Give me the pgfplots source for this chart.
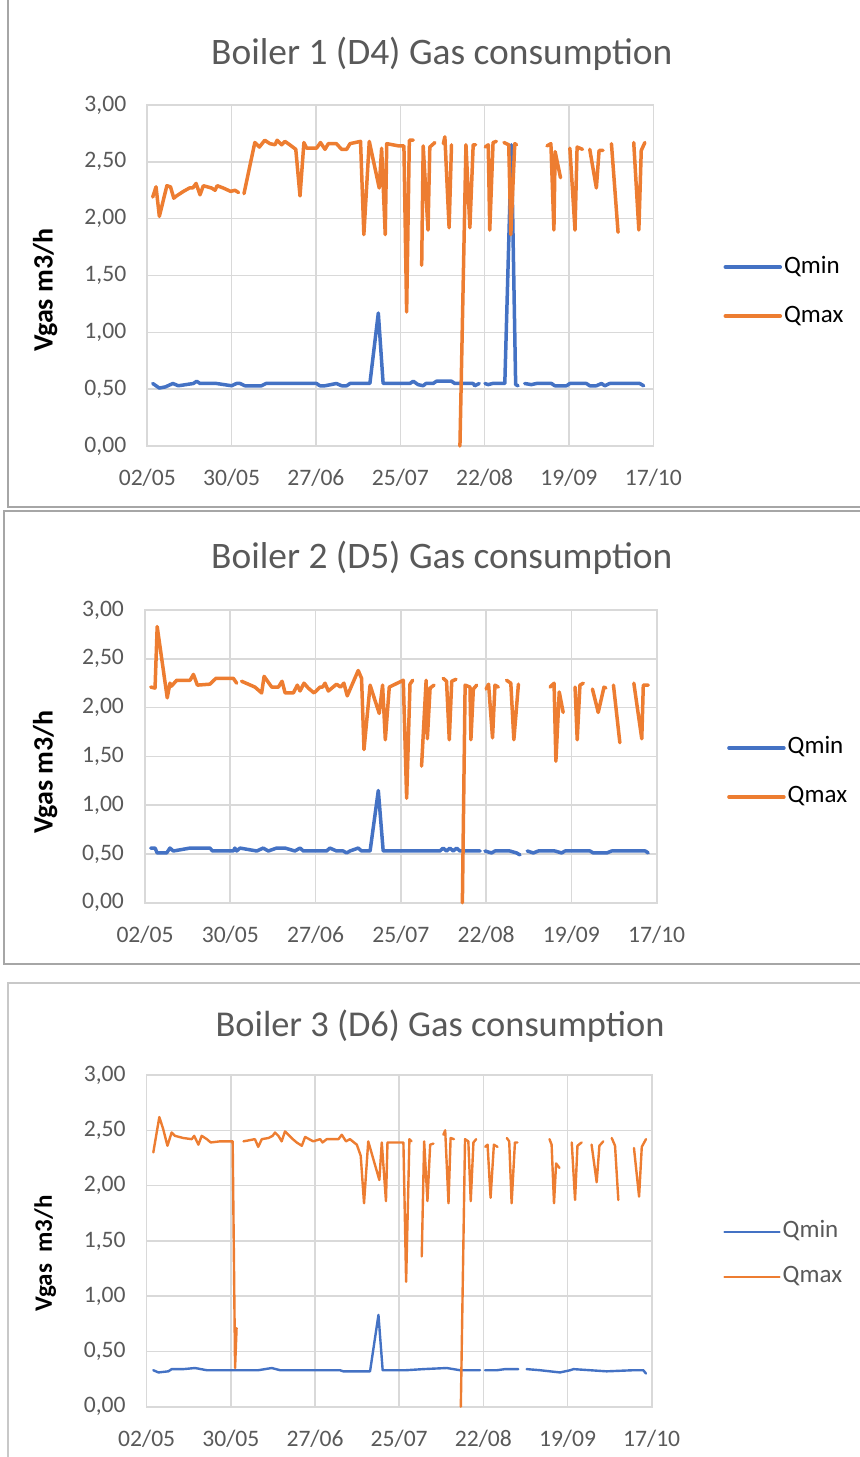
\documentclass[border=0pt]{standalone}
\usepackage{fontspec}
\setmainfont{Carlito}
\usepackage{pgfplots}
\pgfplotsset{compat=1.18}
\definecolor{qmin}{HTML}{4472C4}
\definecolor{qmax}{HTML}{ED7D31}
\definecolor{gridc}{HTML}{D9D9D9}
\definecolor{txt}{HTML}{595959}
\definecolor{frm}{HTML}{A6A6A6}
\definecolor{frm3}{HTML}{C8C8C8}

\pgfplotsset{
  boiler/.style={
    scale only axis,
    xmin=0, xmax=168, ymin=0, ymax=3,
    xtick={0,28,56,84,112,140,168},
    xticklabels={02/05,30/05,27/06,25/07,22/08,19/09,17/10},
    ytick={0,0.5,1,1.5,2,2.5,3},
    yticklabel style={/pgf/number format/fixed, /pgf/number format/fixed zerofill, /pgf/number format/precision=2, /pgf/number format/use comma, /pgf/number format/assume math mode=true},
    tick label style={font=\fontsize{11.8}{14}\selectfont, text=txt},
    yticklabel style={xshift=-7pt},
    xticklabel style={yshift=-8pt},
    grid=major,
    major grid style={gridc, line width=0.8pt},
    axis line style={gridc, line width=0.8pt},
    tick style={draw=none},
    unbounded coords=jump,
    clip=false,
    title style={anchor=center, yshift=-7pt, font=\fontsize{18.7}{22}\selectfont, text=txt},
    ylabel={Vgas m3/h},
    ylabel style={anchor=center, font=\fontsize{14}{16}\selectfont\bfseries, text=black},
    legend cell align=left,
    legend style={draw=none, fill=none, anchor=west, inner sep=0pt, row sep=12.5pt,
      font=\fontsize{12.5}{15}\selectfont,
      nodes={inner sep=1pt, text height=8pt, text depth=2pt}},
    legend image code/.code={\draw[##1] (0pt,0pt) -- (27.5pt,0pt);},
  },
  qminstyle/.style={qmin, line width=1.75pt, line join=round, line cap=round},
  qmaxstyle/.style={qmax, line width=1.75pt, line join=round, line cap=round},
}

\begin{document}
\begin{tikzpicture}
\path[use as bounding box] (0,0) rectangle (430pt,-728.5pt);
% panel frames
\draw[frm, line width=1pt] (4pt,2pt) rectangle (432pt,-253.5pt);
\draw[frm, line width=1pt] (2pt,-255.4pt) rectangle (432pt,-482pt);
\draw[frm3, line width=0.8pt] (4pt,-491.5pt) rectangle (432pt,-732pt);

% ---------------- Panel 1 ----------------
\begin{axis}[boiler,
  at={(73.65pt,-52.5pt)}, anchor=north west,
  width=253pt, height=170.5pt,
  title={Boiler 1 (D4) Gas consumption},
  title style={at={(axis description cs:0.582,1.155)}},
  ylabel style={at={(axis description cs:-0.202,0.457)}},
  legend style={at={(axis description cs:1.138,0.453)}, text=black},
]
\addplot[qminstyle] coordinates {
(1.8,0.55) (4,0.51) (6,0.52) (8.5,0.55) (10.3,0.53) (15.3,0.55) (16.4,0.57) (17.5,0.55)
(23,0.55) (28,0.53) (29.6,0.55) (30.8,0.55) (32.4,0.53) (37.9,0.53) (39.4,0.55)
(56.2,0.55) (57.3,0.53) (59,0.53) (62.8,0.55) (64.5,0.53) (66.2,0.53) (67.3,0.55)
(73.9,0.55) (76.7,1.17) (78.3,0.55) (87.2,0.55) (88.3,0.57) (89.9,0.54) (91.6,0.53)
(92.5,0.55) (94.9,0.55) (96,0.57) (101,0.57) (102.1,0.55) (108.2,0.55) (108.7,0.53)
(110.2,0.55) (111,nan) (112.1,0.55) (113.2,0.54) (114.6,0.55) (118.7,0.55) (120.9,2.65)
(122.3,0.54) (123.1,0.53) (124,nan) (125.3,0.55) (127.5,0.54) (129.2,0.55) (134.2,0.55)
(135.3,0.53) (139.2,0.53) (140.3,0.55) (145.8,0.55) (146.9,0.53) (149.1,0.53) (150.8,0.55)
(151.9,0.53) (153.5,0.55) (163.5,0.55) (164.8,0.53)
};
\addlegendentry{Qmin}
\addplot[qmaxstyle] coordinates {
(1.8,2.19) (2.9,2.28) (4,2.02) (6.5,2.29) (7.7,2.28) (8.8,2.18) (9.7,2.20) (12,2.24)
(14,2.27) (15.1,2.27) (16.2,2.31) (17.5,2.21) (18.6,2.29) (21.3,2.27) (22.5,2.25)
(23.2,2.29) (25.2,2.27) (27.7,2.24) (29.1,2.25) (30.3,2.23) (31,nan) (32.1,2.22)
(35.7,2.67) (37.2,2.63) (39,2.69) (40.7,2.66) (42.4,2.65) (43.1,2.69) (44.6,2.65)
(45.7,2.68) (47.3,2.65) (49.3,2.61) (50.7,2.20) (52,2.67) (52.9,2.62) (56.2,2.62)
(57.5,2.67) (59,2.61) (60.1,2.66) (62.8,2.66) (64.5,2.61) (66.2,2.61) (67.3,2.66)
(70.8,2.68) (71.9,1.86) (73.7,2.68) (77,2.27) (77.8,2.62) (79,1.86) (79.5,2.66)
(83.5,2.64) (85.2,2.64) (86.1,1.18) (87,2.69) (88.3,2.69) (89.5,nan) (91.1,1.59)
(91.6,2.64) (93.2,1.90) (93.8,2.63) (95.5,2.67) (96.5,nan) (98.3,2.66) (98.8,2.72)
(100.2,1.92) (101,2.65) (102,nan) (103.8,0) (105.8,2.65) (107.1,1.92) (108.2,2.65)
(109,2.65) (110,nan) (112.2,2.63) (113.2,2.65) (113.7,1.90) (114.8,2.67) (115.9,2.68)
(117,nan) (118.4,2.67) (120,2.65) (120.7,1.86) (122,2.66) (122.6,2.65) (124,nan)
(132.7,2.64) (134,2.66) (135,1.90) (135.4,2.59) (137.2,2.36) (138.5,nan) (140.3,2.62)
(142,1.90) (142.7,2.63) (144.5,2.61) (145.5,nan) (146.9,2.61) (149.1,2.27) (150,2.60)
(151.3,2.60) (152.5,nan) (154.1,2.66) (156.3,1.88) (158,nan) (161.5,2.67) (163.2,1.90)
(164,2.60) (165.2,2.67)
};
\addlegendentry{Qmax}
\end{axis}

% ---------------- Panel 2 ----------------
\begin{axis}[boiler,
  at={(72.5pt,-305pt)}, anchor=north west,
  width=255.85pt, height=146.35pt,
  title={Boiler 2 (D5) Gas consumption},
  title style={at={(axis description cs:0.580,1.185)}},
  ylabel style={at={(axis description cs:-0.195,0.447)}},
  legend style={at={(axis description cs:1.137,0.445)}, text=black},
]
\addplot[qminstyle] coordinates {
(1.9,0.56) (3.3,0.56) (4,0.51) (7.1,0.51) (8.2,0.56) (9.3,0.53) (14.8,0.56) (21.3,0.56)
(22.2,0.53) (29,0.53) (29.5,0.56) (30.1,0.53) (31.2,0.56) (36.7,0.53) (38.8,0.56)
(40.5,0.53) (43.2,0.56) (46,0.56) (49.2,0.53) (50.9,0.56) (52,0.53) (59.6,0.53)
(60.7,0.56) (62.9,0.53) (65.1,0.53) (66.2,0.51) (67.3,0.53) (70,0.56) (71.1,0.53)
(73.9,0.53) (76.6,1.15) (78.2,0.53) (96.8,0.53) (97.9,0.56) (99,0.53) (100.1,0.56)
(101.2,0.53) (102.3,0.56) (103.4,0.53) (110,0.53) (110.8,nan) (111.6,0.53) (113.8,0.51)
(114.9,0.53) (119.8,0.53) (122,0.51) (123.1,0.49) (124,nan) (125.5,0.53) (127.5,0.51)
(129.1,0.53) (134.6,0.53) (136.8,0.51) (137.9,0.53) (146.1,0.53) (147.2,0.51)
(151.6,0.51) (153.2,0.53) (164.3,0.53) (165.2,0.51)
};
\addlegendentry{Qmin}
\addplot[qmaxstyle] coordinates {
(1.9,2.21) (3.3,2.20) (4,2.83) (7.3,2.10) (8.2,2.25) (8.7,2.22) (10.4,2.28) (14.8,2.28)
(15.9,2.34) (17.2,2.23) (21.3,2.24) (23.3,2.30) (29,2.30) (30.1,2.25) (30.9,nan)
(31.7,2.27) (36.1,2.21) (38.3,2.15) (39.1,2.32) (41.6,2.21) (43.8,2.21) (45,2.27)
(46,2.15) (48.7,2.15) (50,2.23) (50.9,2.17) (52.2,2.25) (53.6,2.20) (55.5,2.15)
(57.5,2.21) (58.3,2.21) (59.1,2.25) (60.2,2.17) (62.9,2.24) (64.2,2.21) (65.3,2.25)
(66.4,2.12) (70,2.38) (71.1,2.30) (71.9,1.57) (73.9,2.23) (76.9,1.94) (78,2.23)
(78.9,1.67) (80.2,2.21) (84.8,2.28) (85.9,1.07) (87,2.24) (87.9,2.28) (89,nan)
(90.8,1.40) (92.3,2.28) (92.7,1.68) (93.6,2.20) (94.9,2.23) (96,nan) (97.9,2.30)
(99,2.27) (99.9,1.67) (100.7,2.27) (102.1,2.29) (103,nan) (104.2,0) (105.1,2.23)
(106.7,2.21) (107,1.67) (107.8,2.19) (108.9,2.23) (110,nan) (112,2.19) (112.8,2.24)
(114.1,1.69) (114.9,2.23) (116,2.21) (117,nan) (118.7,2.28) (120.1,2.25) (121.1,1.67)
(122.6,2.24) (124,nan) (133,2.21) (134.3,2.25) (134.9,1.45) (136,2.16) (137.3,1.95)
(138.5,nan) (141.2,2.21) (141.9,1.67) (142.8,2.23) (143.9,2.25) (145,nan) (146.9,2.19)
(148.8,1.95) (150.7,2.21) (151.3,2.20) (152.5,nan) (153.8,2.23) (155.9,1.64)
(157.5,nan) (160.5,2.25) (163.1,1.68) (163.6,2.23) (165.2,2.23)
};
\addlegendentry{Qmax}
\end{axis}

% ---------------- Panel 3 ----------------
\begin{axis}[boiler,
  at={(73.35pt,-537.5pt)}, anchor=north west,
  width=252.5pt, height=165.85pt,
  title={Boiler 3 (D6) Gas consumption},
  title style={at={(axis description cs:0.581,1.154)}, font=\fontsize{18.2}{22}\selectfont},
  ylabel={Vgas\ \ m3/h},
  ylabel style={at={(axis description cs:-0.201,0.463)}, font=\fontsize{12.5}{15}\selectfont\bfseries},
  legend style={at={(axis description cs:1.141,0.459)}, text=txt, row sep=10.5pt},
  qminstyle/.style={qmin, line width=1.2pt, line join=round, line cap=round},
  qmaxstyle/.style={qmax, line width=1.2pt, line join=round, line cap=round},
]
\addplot[qminstyle] coordinates {
(2.2,0.33) (3.9,0.31) (7.2,0.32) (8.3,0.34) (12.2,0.34) (16.1,0.35) (20,0.33) (24.4,0.33)
(29.4,0.33) (37.1,0.33) (41.6,0.35) (44.4,0.33) (64.3,0.33) (65.4,0.32) (74.3,0.32)
(77.1,0.83) (78.5,0.33) (86.2,0.33) (92,0.34) (99.8,0.35) (104.2,0.33) (110.9,0.33)
(111.8,nan) (112.6,0.33) (116.5,0.33) (119.2,0.34) (123.6,0.34) (125,nan) (126.4,0.34)
(130.9,0.33) (137.5,0.31) (140.9,0.33) (142,0.34) (153,0.32) (161.9,0.33) (165.2,0.33)
(166.1,0.30)
};
\addlegendentry{Qmin}
\addplot[qmaxstyle] coordinates {
(2.2,2.30) (4.2,2.62) (5.5,2.51) (6.9,2.36) (8.3,2.48) (9.4,2.45) (12.2,2.43) (15,2.42)
(15.8,2.45) (17.2,2.37) (18.3,2.45) (20,2.42) (21.3,2.39) (24.4,2.40) (28.6,2.40)
(29.4,0.35) (29.9,0.71) (30.5,nan) (32.2,2.40) (36,2.42) (37.1,2.35) (38.3,2.42)
(40.5,2.43) (41.9,2.45) (42.7,2.48) (43.8,2.45) (44.9,2.40) (46,2.49) (48.6,2.42)
(49.9,2.39) (51.6,2.36) (52.7,2.44) (55.4,2.40) (57.7,2.42) (58.5,2.39) (59.9,2.42)
(63.8,2.42) (64.9,2.46) (66.3,2.40) (67.6,2.42) (69.9,2.37) (71.2,2.27) (72.3,1.84)
(73.7,2.40) (77.4,2.05) (78.2,2.39) (79.6,1.86) (80.1,2.39) (85.4,2.39) (86.3,1.13)
(87.4,2.42) (88.1,2.40) (89.5,nan) (91.5,1.36) (92.3,2.40) (93.4,1.86) (94.3,2.37)
(95.4,2.38) (96.5,nan) (98.7,2.46) (99.3,2.50) (100.4,1.84) (101.1,2.43) (102.2,2.42)
(103.3,nan) (104.5,0) (105.9,2.42) (107,2.40) (107.8,1.86) (108.7,2.39) (109.6,2.42)
(110.5,nan) (112.6,2.35) (113.4,2.37) (114.4,1.89) (115.5,2.37) (116.7,2.35) (118,nan)
(119.8,2.43) (120.6,2.40) (121.4,1.84) (122.5,2.39) (123.3,2.39) (125,nan) (134,2.42)
(134.7,2.37) (135.5,1.84) (136.2,2.20) (137.3,2.16) (139,nan) (141.4,2.39) (142.5,1.87)
(143.3,2.36) (144.7,2.39) (146,nan) (148,2.37) (149.7,2.03) (150.6,2.36) (151.9,2.40)
(153,nan) (154.7,2.43) (155.8,2.36) (156.9,1.87) (158.5,nan) (162.1,2.34) (163.8,1.90)
(164.7,2.35) (166.1,2.42)
};
\addlegendentry{Qmax}
\end{axis}
\end{tikzpicture}
\end{document}
